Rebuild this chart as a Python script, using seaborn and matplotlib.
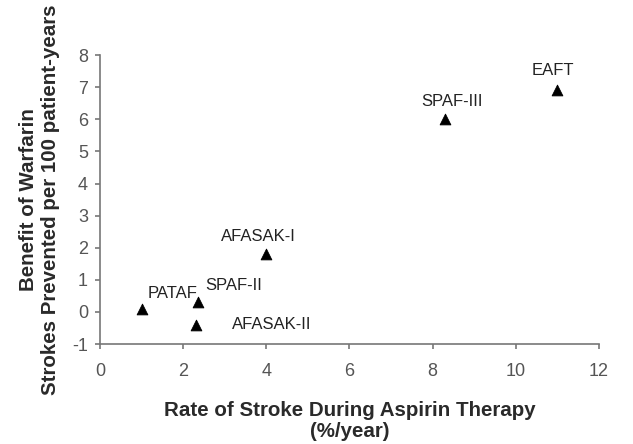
import matplotlib
matplotlib.use("Agg")
import matplotlib.pyplot as plt
import seaborn as sns
import pandas as pd

# trial data: aspirin stroke rate vs. strokes prevented by warfarin
trials = ["PATAF", "SPAF-II", "AFASAK-II", "AFASAK-I", "SPAF-III", "EAFT"]
aspirin_rate = [1.0, 2.35, 2.3, 4.0, 8.3, 11.0]
benefit = [0.1, 0.3, -0.4, 1.8, 6.0, 6.9]
# label offsets (points) from each marker
label_dx = [22, 26, 55, -6, 5, -3]
label_dy = [11, 12, 0, 13, 13, 14]

df = pd.DataFrame({"trial": trials, "rate": aspirin_rate, "benefit": benefit})

sns.set_style("white")
plt.rcParams["font.family"] = ["Liberation Sans", "DejaVu Sans"]

fig = plt.figure(figsize=(6.33, 4.44), dpi=100)
ax = fig.add_axes([0.158, 0.225, 0.788, 0.651])

sns.scatterplot(data=df, x="rate", y="benefit", marker="^", color="black",
                s=60, edgecolor="black", ax=ax, legend=False)

for i, row in df.iterrows():
    ax.annotate(row["trial"], (row["rate"], row["benefit"]),
                xytext=(label_dx[i], label_dy[i]), textcoords="offset points",
                ha="center", va="center", fontsize=12, color="#222222")

ax.set_xlim(0, 12)
ax.set_ylim(-1, 8)
ax.set_xticks(range(0, 13, 2))
ax.set_yticks(range(-1, 9))
ax.set_yticklabels([str(v) for v in range(-1, 9)])

for side in ["top", "right"]:
    ax.spines[side].set_visible(False)
for side in ["left", "bottom"]:
    ax.spines[side].set_color("#777777")
    ax.spines[side].set_linewidth(1.2)
ax.tick_params(direction="out", length=3.6, width=1.2, color="#777777",
               labelcolor="#555555", labelsize=13, bottom=True, left=True)
ax.tick_params(axis="x", pad=10)
ax.tick_params(axis="y", pad=5)

ax.set_xlabel("Rate of Stroke During Aspirin Therapy\n(%/year)", fontsize=14.8,
              fontweight="bold", color="#2a2a2a", labelpad=15, linespacing=1.15)
ax.set_ylabel("Benefit of Warfarin\nStrokes Prevented per 100 patient-years",
              fontsize=14.8, fontweight="bold", color="#2a2a2a", labelpad=9,
              linespacing=1.2)

fig.savefig("out.png", dpi=100)
